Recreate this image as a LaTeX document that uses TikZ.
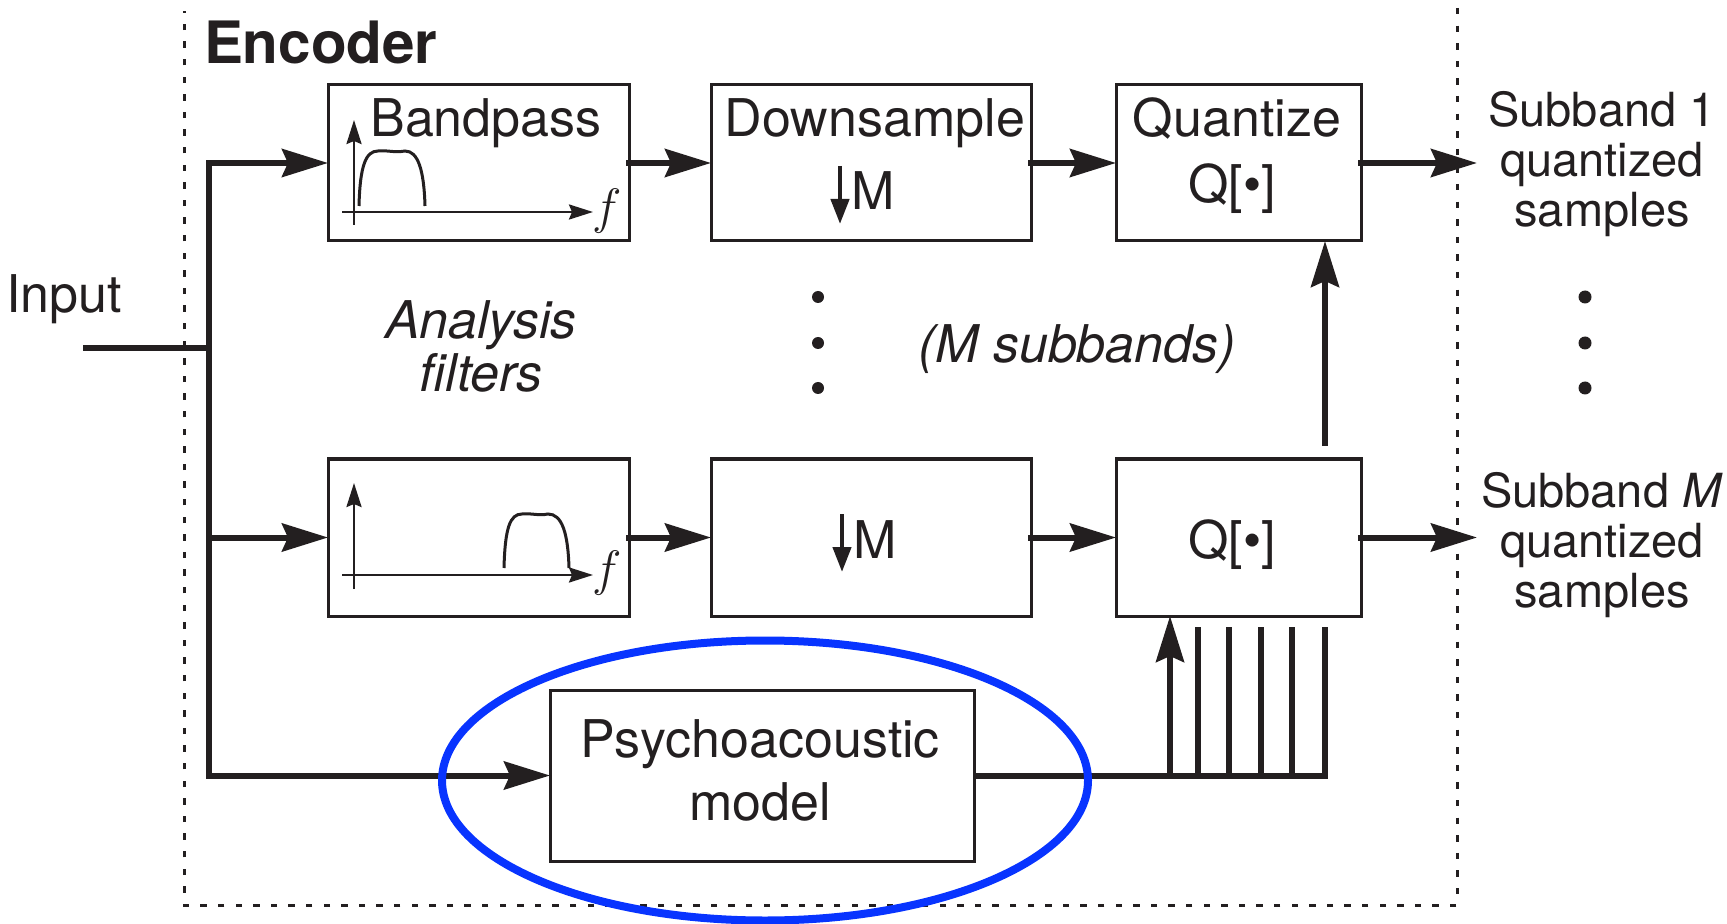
\documentclass[tikz,border=0pt]{standalone}
\usepackage{fontspec}
\setmainfont{TeX Gyre Heros}
\usetikzlibrary{arrows.meta}
\definecolor{ink}{RGB}{35,31,32}
\definecolor{hiblue}{RGB}{8,52,255}
\begin{document}
\begin{tikzpicture}[x=0.5pt,y=-0.5pt,
  every node/.style={inner sep=0pt,outer sep=0pt,text=ink},
  blockbox/.style={draw=ink,line width=1.5pt,minimum height=78pt},
  wire/.style={draw=ink,line width=3pt,line cap=rect,line join=miter},
  conn/.style={wire,-{Stealth[length=23pt,width=14pt,inset=3pt]}},
  axis/.style={draw=ink,line width=1.3pt,-{Stealth[length=12pt,width=7.5pt,inset=1.5pt]}},
  resp/.style={draw=ink,line width=1.5pt},
  frame/.style={draw=ink,line width=1.5pt,dash pattern=on 3.2pt off 5.6pt},
  hilite/.style={draw=hiblue,line width=4pt},
  lbl/.style={font=\fontsize{26}{31.5}\selectfont},
  outlbl/.style={font=\fontsize{23.5}{25}\selectfont,align=center},
  flbl/.style={font=\fontsize{29}{29}\selectfont},
  dwn/.style={draw=ink,line width=2.2pt,-{Triangle[length=12.5pt,width=9pt]}}]
\useasboundingbox (0,0) rectangle (1727,924);

% encoder frame
\draw[frame] (1457,8) -- (1457,905) -- (184,905) -- (184,11);
\node[anchor=base west,font=\fontsize{29.2}{30}\selectfont\bfseries] (enc) at (204,64) {Encoder};

% processing blocks, first subband
\node[blockbox,minimum width=150.5pt] (bp1) at (478.5,163) {};
\node[blockbox,minimum width=160pt] (ds1) at (871,163) {};
\node[blockbox,minimum width=122.5pt] (qz1) at (1238.5,163) {};
% processing blocks, last subband
\node[blockbox,minimum width=150.5pt,minimum height=78.5pt] (bp2) at (478.5,537.5) {};
\node[blockbox,minimum width=160pt,minimum height=78.5pt] (ds2) at (871,537.5) {};
\node[blockbox,minimum width=122.5pt,minimum height=78.5pt] (qz2) at (1238.5,537.5) {};
% psychoacoustic model
\node[blockbox,minimum width=212pt,minimum height=85.5pt] (psy) at (762,775.5) {};
\node[lbl,align=center] (psyt) at (760,770) {Psychoacoustic\\model};

% block labels
\node[lbl,anchor=base] (bpt) at (486,137) {Bandpass};
\node[lbl,anchor=base] (dst) at (875,137) {Downsample};
\node[lbl,anchor=base west] (m1) at (851,210) {M};
\draw[dwn] ([xshift=-5.5pt,yshift=22pt]m1.base west) -- ([xshift=-5.5pt,yshift=-7pt]m1.base west);
\node[lbl,anchor=base] (qzt) at (1237,137) {Quantize};
\node[lbl,anchor=base] (q1) at (1232,203) {Q[\textbullet]};
\node[lbl,anchor=base west] (m2) at (853,558) {M};
\draw[dwn] ([xshift=-5.5pt,yshift=22pt]m2.base west) -- ([xshift=-5.5pt,yshift=-7pt]m2.base west);
\node[lbl,anchor=base] (q2) at (1232,558) {Q[\textbullet]};

% frequency responses
\draw[axis] (354,225) -- (354,120);
\draw[axis] (342,212) -- (593,212);
\draw[resp] (359,206) .. controls (360,165) and (366,151) .. (378,151)
  .. controls (388,150) and (394,153) .. (405,151)
  .. controls (418,151) and (424,170) .. (425,206);
\node[flbl] (f1) at (607,211) {$f$};
\draw[axis] (354,589) -- (354,483);
\draw[axis] (342,575) -- (593,575);
\draw[resp] (504,568) .. controls (505,528) and (510,514) .. (522,514)
  .. controls (532,513) and (538,516) .. (548,514)
  .. controls (562,514) and (568,533) .. (569,568);
\node[flbl] (f2) at (607,573) {$f$};

% free labels
\node[lbl,anchor=base west] (inp) at (6,313) {Input};
\node[lbl,align=center,font=\fontsize{26}{26.5}\selectfont\itshape] (anf) at (481,346) {Analysis\\filters};
\node[lbl,anchor=base,font=\fontsize{26}{31.5}\selectfont\itshape] (msub) at (1077,363) {(M subbands)};
\node[outlbl] (out1) at (1602,164) {Subband 1\\quantized\\samples};
\node[outlbl] (out2) at (1602,545) {Subband \textit{M}\\quantized\\samples};
\foreach \yy in {297,343,388} {
  \fill[ink] (818,\yy) circle (6);
  \fill[ink] (1585,\yy) circle (6.5);
}

% signal routing
\coordinate (in) at (86,348);
\coordinate (bus) at (209,348);
\draw[wire] (in) -- (bus);
\draw[wire] (bus |- bp1.west) -- (bus |- psy.west);
\draw[conn] (bus |- bp1.west) -- (bp1.west);
\draw[conn] (bus |- bp2.west) -- (bp2.west);
\draw[conn] (bus |- psy.west) -- (psy.west);
\draw[conn] (bp1.east) -- (ds1.west);
\draw[conn] (ds1.east) -- (qz1.west);
\draw[conn] (bp2.east) -- (ds2.west);
\draw[conn] (ds2.east) -- (qz2.west);
\coordinate (o1) at (1477,163);
\coordinate (o2) at (1477,537.5);
\draw[conn] (qz1.east) -- (o1);
\draw[conn] (qz2.east) -- (o2);

% masking thresholds to the quantizers
\coordinate (pr) at (1325,775.5);
\coordinate (fan) at (1325,627);
\draw[wire,line cap=butt] (psy.east) -- (pr) -- (fan);
\foreach \xx in {1198,1229,1261,1292}
  \draw[wire,line cap=butt] (\xx,627) -- (\xx,775.5);
\coordinate (tap) at (1170,775.5);
\draw[conn,line cap=butt] (tap) -- (tap |- qz2.south);
\coordinate (fb) at (1325,446);
\draw[conn,line cap=butt] (fb) -- (fb |- qz1.south);

% highlight
\draw[hilite] ([shift={(3,5)}]psy.center) ellipse [x radius=161.5pt,y radius=70pt];
\end{tikzpicture}
\end{document}
